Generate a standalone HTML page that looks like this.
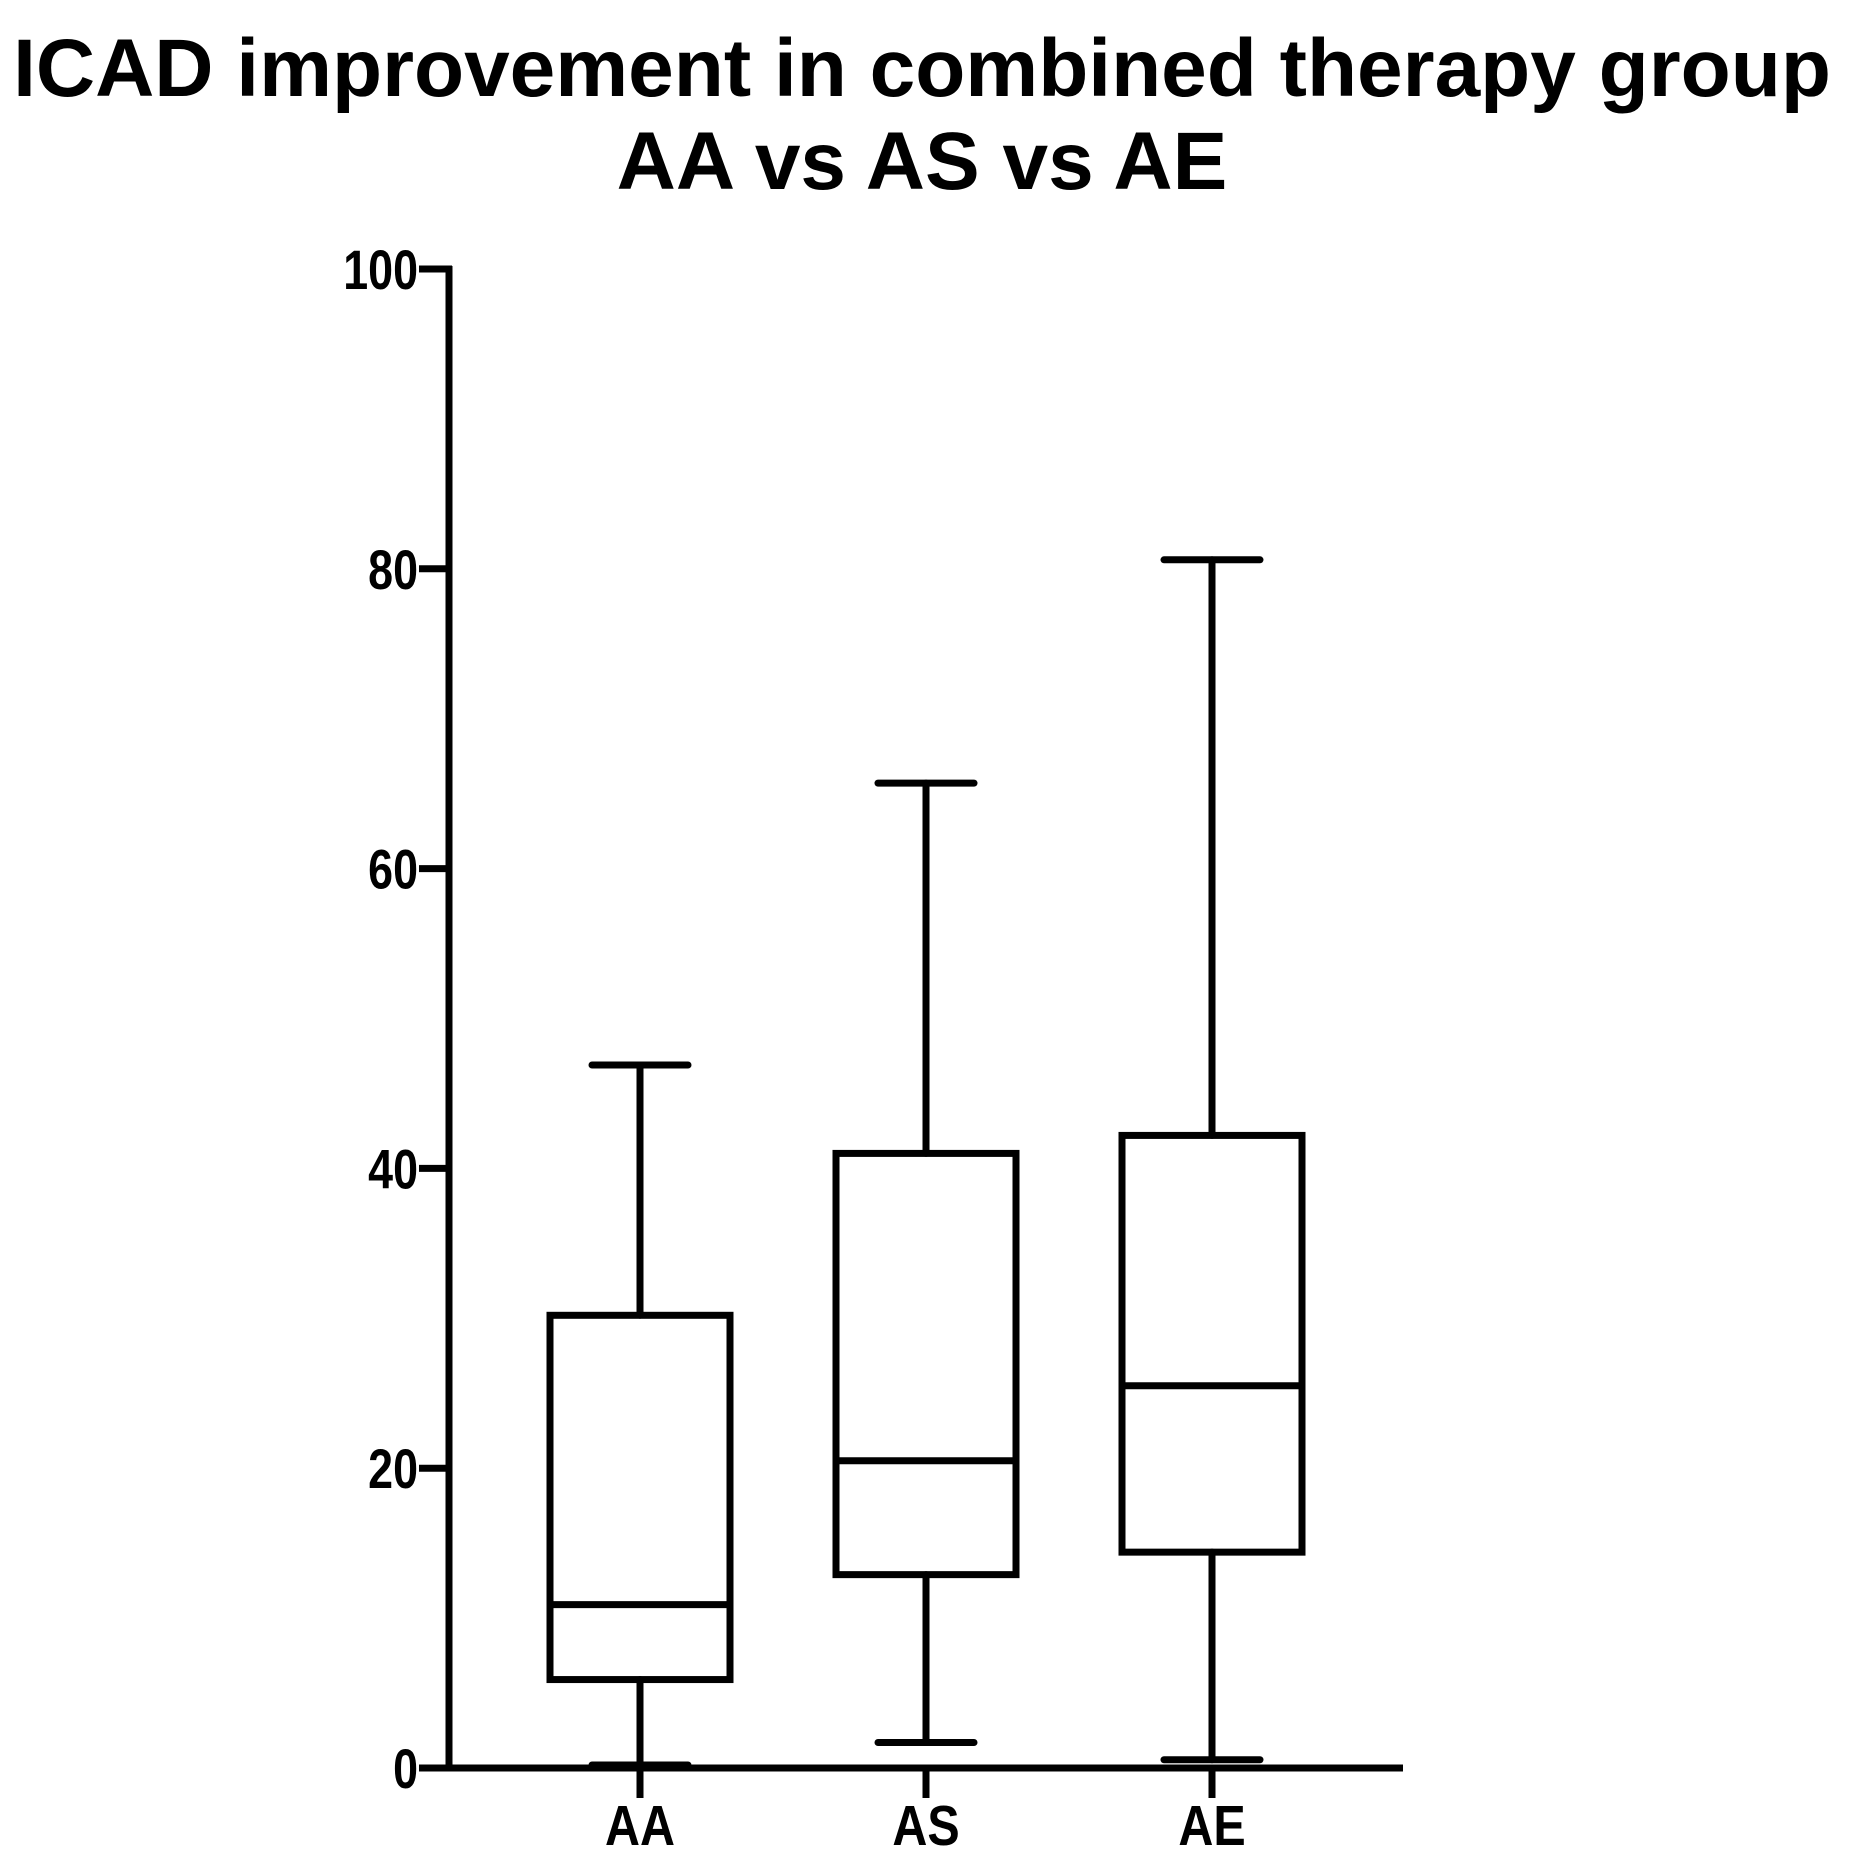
<!DOCTYPE html>
<html><head><meta charset="utf-8"><style>
html,body{margin:0;padding:0;background:#fff;}
svg{display:block;font-family:"Liberation Sans",sans-serif;font-weight:bold;}
</style></head><body>
<svg id="chart" width="1855" height="1867" viewBox="0 0 1855 1867">
<text x="922" y="96" text-anchor="middle" font-size="82">ICAD improvement in combined therapy group</text>
<text x="922" y="189" text-anchor="middle" font-size="82">AA vs AS vs AE</text>
<g id="axes"></g><g id="boxes"></g>
</svg>
<script>
const categories = ["AA","AS","AE"];
const mins = [0.2, 1.7, 0.55];
const q1s = [5.9, 12.9, 14.4];
const medians = [10.9, 20.5, 25.5];
const q3s = [30.2, 41.0, 42.2];
const maxs = [46.9, 65.7, 80.6];
const yTicks = [0,20,40,60,80,100];

const NS="http://www.w3.org/2000/svg";
const x0=449, xEnd=1403, yZero=1768, yTop=269, yMax=100;
const y=v=>yZero-(v/yMax)*(yZero-yTop);
const cx=i=>640+i*286;
const SW=7;
function mk(tag,attrs,parent){const e=document.createElementNS(NS,tag);for(const k in attrs)e.setAttribute(k,attrs[k]);parent.appendChild(e);return e;}
const axes=document.getElementById('axes'), boxes=document.getElementById('boxes');

let yl=mk('line',{x1:x0,y1:y(yMax)-3,x2:x0,y2:yZero,stroke:'#000','stroke-width':SW},axes);


let xl=mk('line',{x1:x0-30,y1:yZero,x2:xEnd,y2:yZero,stroke:'#000','stroke-width':SW},axes);


yTicks.forEach(t=>{
  let tk=mk('line',{x1:x0-30,y1:y(t),x2:x0+3,y2:y(t),stroke:'#000','stroke-width':SW},axes);
  
  
  let tl=mk('text',{x:0,y:0,'text-anchor':'end','font-size':56,transform:`translate(418,${y(t)+20}) scale(0.8,1)`},axes);
  tl.textContent=t;
  
  
});
categories.forEach((c,i)=>{
  const x=cx(i), hw=90, cap=48;
  let tk=mk('line',{x1:x,y1:yZero,x2:x,y2:1798,stroke:'#000','stroke-width':SW},axes);
  
  
  let lb=mk('text',{x:0,y:0,'text-anchor':'middle','font-size':57,transform:`translate(${x},1845) scale(0.85,1)`},axes);
  lb.textContent=c;
  
  
  const g=mk('g',{stroke:'#000','stroke-width':SW,fill:'none','stroke-linecap':'round'},boxes);
  
  
  mk('line',{x1:x,y1:y(maxs[i]),x2:x,y2:y(q3s[i])},g);
  mk('line',{x1:x,y1:y(q1s[i]),x2:x,y2:y(mins[i])},g);
  mk('line',{x1:x-cap,y1:y(maxs[i]),x2:x+cap,y2:y(maxs[i])},g);
  mk('line',{x1:x-cap,y1:y(mins[i]),x2:x+cap,y2:y(mins[i])},g);
  mk('rect',{x:x-hw,y:y(q3s[i]),width:hw*2,height:y(q1s[i])-y(q3s[i]),'stroke-linecap':'butt'},g);
  mk('line',{x1:x-hw,y1:y(medians[i]),x2:x+hw,y2:y(medians[i]),'stroke-linecap':'butt'},g);
});
</script>
</body></html>
